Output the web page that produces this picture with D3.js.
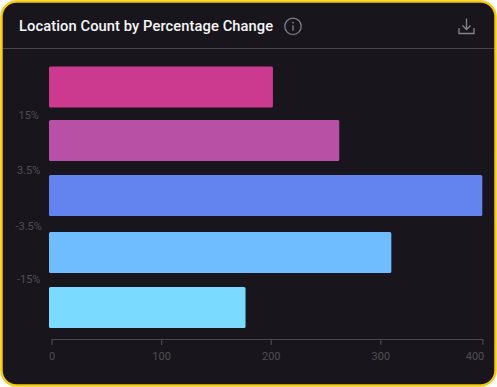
<!DOCTYPE html>
<html><head><meta charset="utf-8">
<script src="https://cdn.jsdelivr.net/npm/d3@7"></script>
<style>html,body{margin:0;padding:0;background:#fff;}svg{display:block;}text{font-family:Roboto,sans-serif;}</style>
</head><body><div id="c"></div>
<script>
const categories = ["a","b","c","d","e"];
const values = [202, 262.5, 393, 310, 177];
const barColors = ["#cb3a8f","#b850a6","#6384ee","#6fbcff","#7adaff"];
const barTops = [66.5, 120, 175, 232, 287];
const yTickLabels = ["15%","3.5%","-3.5%","-15%"];
const yTickPositions = [115.5, 170.5, 226, 279.5];
const xTickValues = [0, 100, 200, 300, 393];
const xTickLabels = ["0","100","200","300","400"];

const W = 497, H = 387;
const svg = d3.select("#c").append("svg").attr("width", W).attr("height", H);
svg.append("rect").attr("x",1.5).attr("y",1.5).attr("width",W-3).attr("height",H-3).attr("rx",15)
  .attr("fill","#18161c").attr("stroke","#f5c90f").attr("stroke-width",2.5);

svg.append("text").attr("x",19).attr("y",31.2).attr("fill","#f6f6f8").attr("font-size",14.7).attr("font-weight",500).attr("letter-spacing",0.09)
  .text("Location Count by Percentage Change");
const info = svg.append("g").attr("transform","translate(293,26.3)").attr("fill","none").attr("stroke","#85848a");
info.append("circle").attr("r",8.2).attr("stroke-width",1.2);
info.append("line").attr("y1",-1).attr("y2",4.5).attr("stroke-width",1.3);
info.append("circle").attr("cy",-3.7).attr("r",0.9).attr("fill","#85848a").attr("stroke","none");
const dl = svg.append("g").attr("fill","none").attr("stroke","#85848a").attr("stroke-width",1.3);
dl.append("path").attr("d","M459 28v5.5h15V28");
dl.append("path").attr("d","M466.5 18.5v11M462.5 25.5l4 4 4-4");
svg.append("line").attr("x1",3).attr("x2",W-3).attr("y1",48.5).attr("y2",48.5).attr("stroke","#47464b").attr("stroke-width",1.2);

const x = d3.scaleLinear().domain([0,393]).range([51.5,482.3]);
const yTop = d3.scaleOrdinal().domain(categories).range(barTops);
const yLab = d3.scaleOrdinal().domain(yTickLabels).range(yTickPositions);

svg.append("g").selectAll("rect").data(categories).join("rect")
  .attr("x",49).attr("y",d=>yTop(d))
  .attr("width",(d,i)=>x(values[i])-49).attr("height",41)
  .attr("rx",1.5)
  .attr("fill",(d,i)=>barColors[i]);

const xAxis = d3.axisBottom(x).tickValues(xTickValues).tickFormat((d,i)=>xTickLabels[i]).tickSize(6).tickSizeOuter(0);
const gx = svg.append("g").attr("transform","translate(0,339)").call(xAxis);
gx.selectAll("path,line").attr("stroke","#4a494e").attr("stroke-width",1.2);
gx.selectAll("text").attr("fill","#4f4e53").attr("font-size",11).attr("y",13.5).attr("dy","0.71em");
gx.selectAll("text").filter((d,i)=>i===xTickValues.length-1).attr("text-anchor","end").attr("dx",1.5);

svg.append("g").selectAll("text").data(yTickLabels).join("text")
  .attr("x",28.7).attr("y",d=>yLab(d)).attr("dy","0.35em").attr("text-anchor","middle")
  .attr("fill","#4f4e53").attr("font-size",11).text(d=>d);
</script></body></html>
